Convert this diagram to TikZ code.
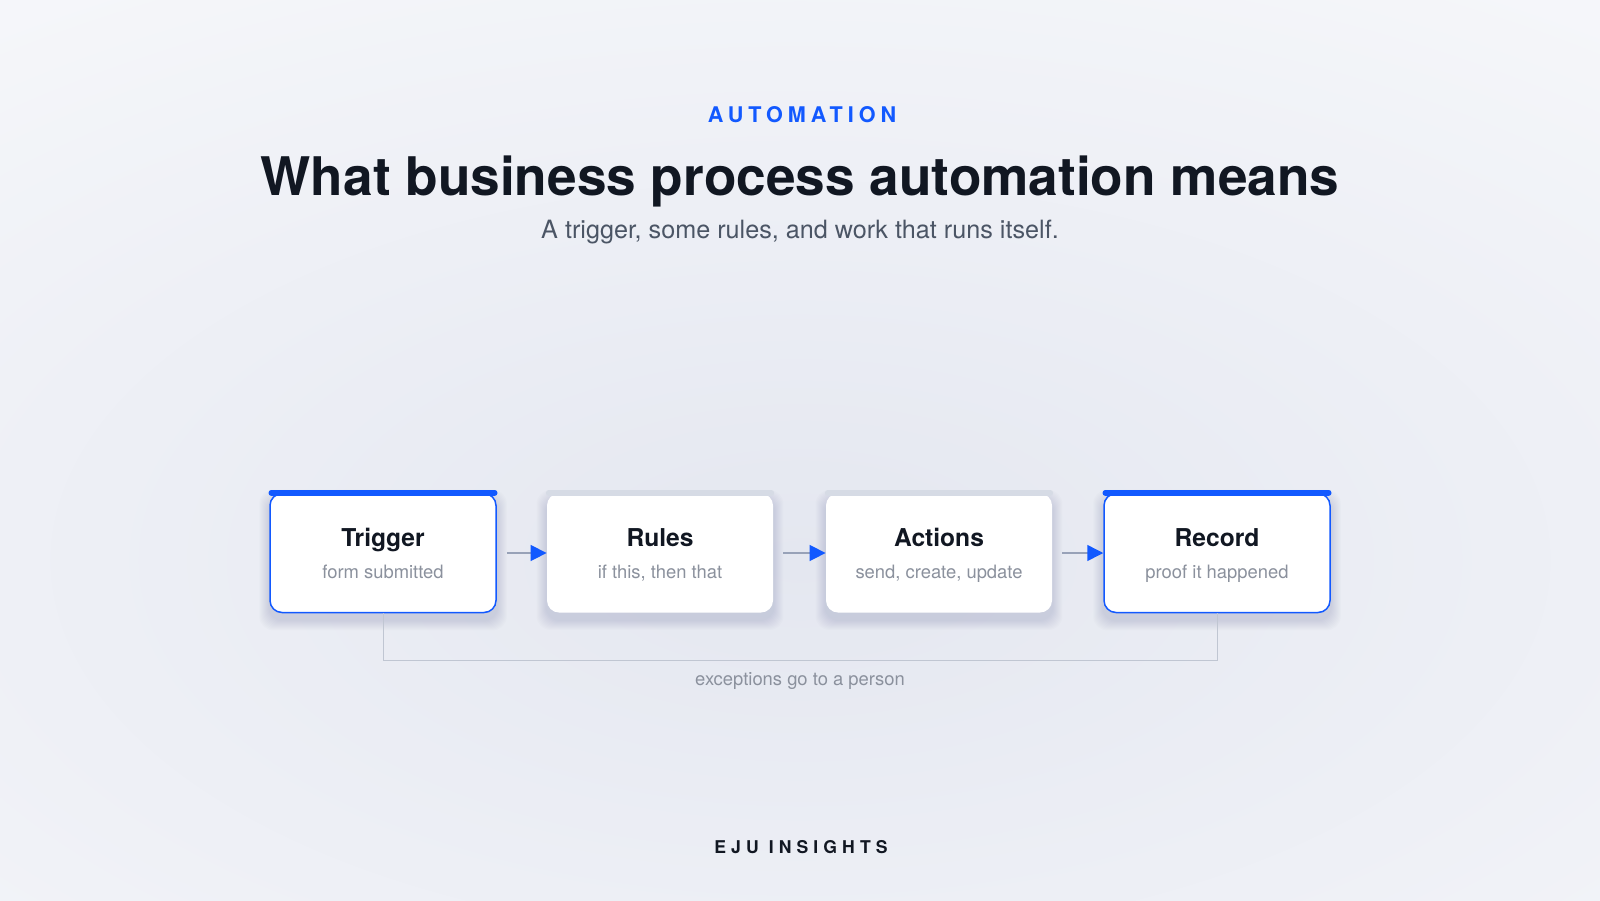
\documentclass[tikz,border=0pt]{standalone}
\usepackage{fontspec}
\setmainfont{TeX Gyre Heros}
\newfontfamily\trackedfont[LetterSpace=23]{TeX Gyre Heros}
\newfontfamily\widetrackedfont[LetterSpace=29]{TeX Gyre Heros}
\usetikzlibrary{backgrounds,arrows.meta}

\definecolor{accent}{HTML}{1259FF}
\definecolor{ink}{HTML}{111722}
\definecolor{muted}{HTML}{4B5565}
\definecolor{faint}{HTML}{8B919D}
\definecolor{railgray}{HTML}{C0C6D2}
\definecolor{shaftgray}{HTML}{98A2B8}
\definecolor{bargray}{HTML}{D6DBE5}
\definecolor{bgedge}{HTML}{F7F8FB}
\definecolor{bgmid}{HTML}{E4E7F0}
\definecolor{shadowtint}{HTML}{7D88A8}

\begin{document}
\begin{tikzpicture}[x=0.5pt,y=-0.5pt,
  card/.style={fill=white, rounded corners=6pt, minimum width=113pt, minimum height=59.5pt, inner sep=0pt},
  cardlive/.style={card, draw=accent, line width=0.75pt},
  topbar/.style={line width=2.75pt, line cap=round},
  cardtitle/.style={anchor=base, text=ink, font=\bfseries\fontsize{12.3}{14}\selectfont},
  cardnote/.style={anchor=base, text=faint, font=\fontsize{9.2}{11}\selectfont},
  flow/.style={draw=shaftgray, line width=0.75pt, -{Triangle[length=8pt,width=8pt,color=accent]}},
  exceptline/.style={draw=railgray, line width=0.5pt}]

\useasboundingbox (0,0) rectangle (1600,900);

% header
\node[anchor=base, text=accent, font=\trackedfont\bfseries\fontsize{10.8}{12}\selectfont] (kicker) at (802,122) {AUTOMATION};
\node[anchor=base, text=ink, font=\bfseries\fontsize{26.6}{30}\selectfont] (headline) at (800,195) {What business process automation means};
\node[anchor=base, text=muted, font=\fontsize{12.6}{15}\selectfont] (tagline) at (800,238) {A trigger, some rules, and work that runs itself.};

% the four steps
\node[cardlive] (trigger) at (383,553) {};
\node[card] (rules) at (660,553) {};
\node[card] (actions) at (939,553) {};
\node[cardlive] (record) at (1217,553) {};

\draw[topbar, accent] ([xshift=1pt]trigger.north west) -- ([xshift=-1pt]trigger.north east);
\draw[topbar, bargray] ([xshift=1pt]rules.north west) -- ([xshift=-1pt]rules.north east);
\draw[topbar, bargray] ([xshift=1pt]actions.north west) -- ([xshift=-1pt]actions.north east);
\draw[topbar, accent] ([xshift=1pt]record.north west) -- ([xshift=-1pt]record.north east);

\node[cardtitle] (triggertitle) at (383,546) {Trigger};
\node[cardnote] (triggernote) at (383,578) {form submitted};
\node[cardtitle] (rulestitle) at (660,546) {Rules};
\node[cardnote] (rulesnote) at (660,578) {if this, then that};
\node[cardtitle] (actionstitle) at (939,546) {Actions};
\node[cardnote] (actionsnote) at (939,578) {send, create, update};
\node[cardtitle] (recordtitle) at (1217,546) {Record};
\node[cardnote] (recordnote) at (1217,578) {proof it happened};

\draw[flow] ([xshift=5pt]trigger.east) -- (rules.west);
\draw[flow] ([xshift=5pt]rules.east) -- (actions.west);
\draw[flow] ([xshift=5pt]actions.east) -- (record.west);

% exception path
\draw[exceptline] (trigger.south) -- ++(0,47) -| (record.south);
\node[cardnote] (exceptnote) at (800,685) {exceptions go to a person};

% footer
\node[anchor=base, text=ink, font=\widetrackedfont\bfseries\fontsize{8.8}{11}\selectfont] (footer) at (801,853) {EJU INSIGHTS};

\begin{scope}[on background layer]
\fill[bgedge] (0,0) rectangle (1600,900);
\shade[inner color=bgmid, outer color=bgedge] (800,560) ellipse [x radius=1500, y radius=760];
\foreach \b in {trigger,rules,actions,record}
  \foreach \s in {1,...,10}
    \fill[shadowtint, opacity=0.026, rounded corners=7pt]
      ([shift={(-\s,-\s+7)}]\b.north west) rectangle ([shift={(\s,\s+7)}]\b.south east);
\end{scope}
\end{tikzpicture}
\end{document}
